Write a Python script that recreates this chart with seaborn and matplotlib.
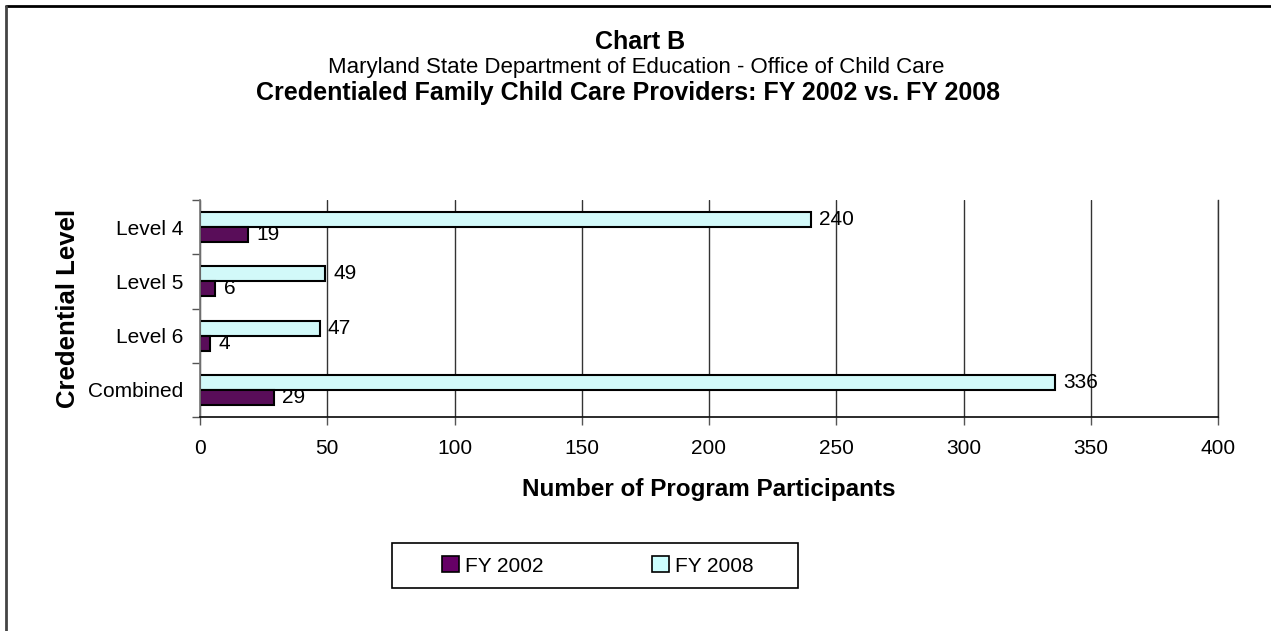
import matplotlib
matplotlib.use("Agg")
import matplotlib.pyplot as plt
import pandas as pd
import seaborn as sns
from matplotlib.lines import Line2D
from matplotlib.patches import Patch, Rectangle

levels = ["Level 4", "Level 5", "Level 6", "Combined"]
fy2002 = [19, 6, 4, 29]
fy2008 = [240, 49, 47, 336]
series = ["FY 2002", "FY 2008"]
colors = {"FY 2002": "#660066", "FY 2008": "#CCFFFF"}

df = pd.DataFrame({
    "level": levels * 2,
    "year": ["FY 2002"] * len(levels) + ["FY 2008"] * len(levels),
    "count": fy2002 + fy2008,
})

sns.set_theme(style="white")
plt.rcParams["font.family"] = ["Liberation Sans", "DejaVu Sans"]
plt.rcParams["text.color"] = "black"
plt.rcParams["axes.labelcolor"] = "black"
plt.rcParams["xtick.color"] = "black"
plt.rcParams["ytick.color"] = "black"

W, H = 1271, 631
fig = plt.figure(figsize=(W / 100, H / 100), dpi=100)
ax = fig.add_axes([200 / W, 1 - 417 / H, 1018 / W, 217 / H])

# FY 2008 first so it sits on top inside each group
sns.barplot(
    data=df, x="count", y="level", hue="year",
    order=levels, hue_order=["FY 2008", "FY 2002"],
    palette=colors, orient="h", width=0.555,
    edgecolor="black", linewidth=1.5, legend=False, ax=ax,
)

for cont in ax.containers:
    ax.bar_label(cont, padding=6, fontsize=15, color="black")

ax.set_xlim(0, 400)
ax.set_xticks(range(0, 401, 50))
ax.grid(axis="x", color="#333333", linewidth=1)
ax.set_axisbelow(True)
ax.set_ylim(len(levels) - 0.5, -0.5)
ax.set_yticks(range(len(levels)))
ax.set_yticks([i - 0.5 for i in range(len(levels) + 1)], minor=True)
ax.tick_params(axis="y", which="major", length=0, labelsize=15, pad=12)
ax.tick_params(axis="y", which="minor", length=6, color="#555555", width=1,
               left=True)
ax.tick_params(axis="x", length=6, color="#555555", width=1, bottom=True,
               labelsize=15, pad=10)
ax.spines["top"].set_visible(False)
ax.spines["right"].set_color("#333333")
ax.spines["right"].set_linewidth(1)
ax.spines["left"].set_color("#777777")
ax.spines["bottom"].set_color("#111111")

ax.set_xlabel("Number of Program Participants", fontsize=17.5,
              fontweight="bold", labelpad=14)
ax.set_ylabel("Credential Level", fontsize=18.5, fontweight="bold",
              labelpad=6)

fig.text(640 / W, 1 - 42 / H, "Chart B", ha="center", va="center",
         fontsize=18, fontweight="bold")
fig.text(636 / W, 1 - 68 / H,
         "Maryland State Department of Education - Office of Child Care",
         ha="center", va="center", fontsize=16)
fig.text(628 / W, 1 - 93 / H,
         "Credentialed Family Child Care Providers: FY 2002 vs. FY 2008",
         ha="center", va="center", fontsize=18, fontweight="bold")

handles = [Patch(facecolor=colors[s], edgecolor="black", linewidth=1.2,
                 label=s) for s in series]
fig.legend(handles=handles, loc="center", ncol=2,
           bbox_to_anchor=(598 / W, 1 - 566 / H), fontsize=15,
           frameon=False, handlelength=0.8, handleheight=0.8,
           columnspacing=5.2, handletextpad=0.3)
# legend box is wider than the entries, drawn by hand
fig.add_artist(Rectangle((392 / W, 1 - 588 / H), 406 / W, 45 / H,
                         transform=fig.transFigure, facecolor="none",
                         edgecolor="black", lw=1.2))

# outer frame: top and left edges only
fig.add_artist(Line2D([6 / W, 1], [1 - 6 / H, 1 - 6 / H],
                      transform=fig.transFigure, color="black", lw=2))
fig.add_artist(Line2D([6 / W, 6 / W], [0, 1 - 6 / H],
                      transform=fig.transFigure, color="#444444", lw=2))

fig.savefig("out.png", dpi=100)
